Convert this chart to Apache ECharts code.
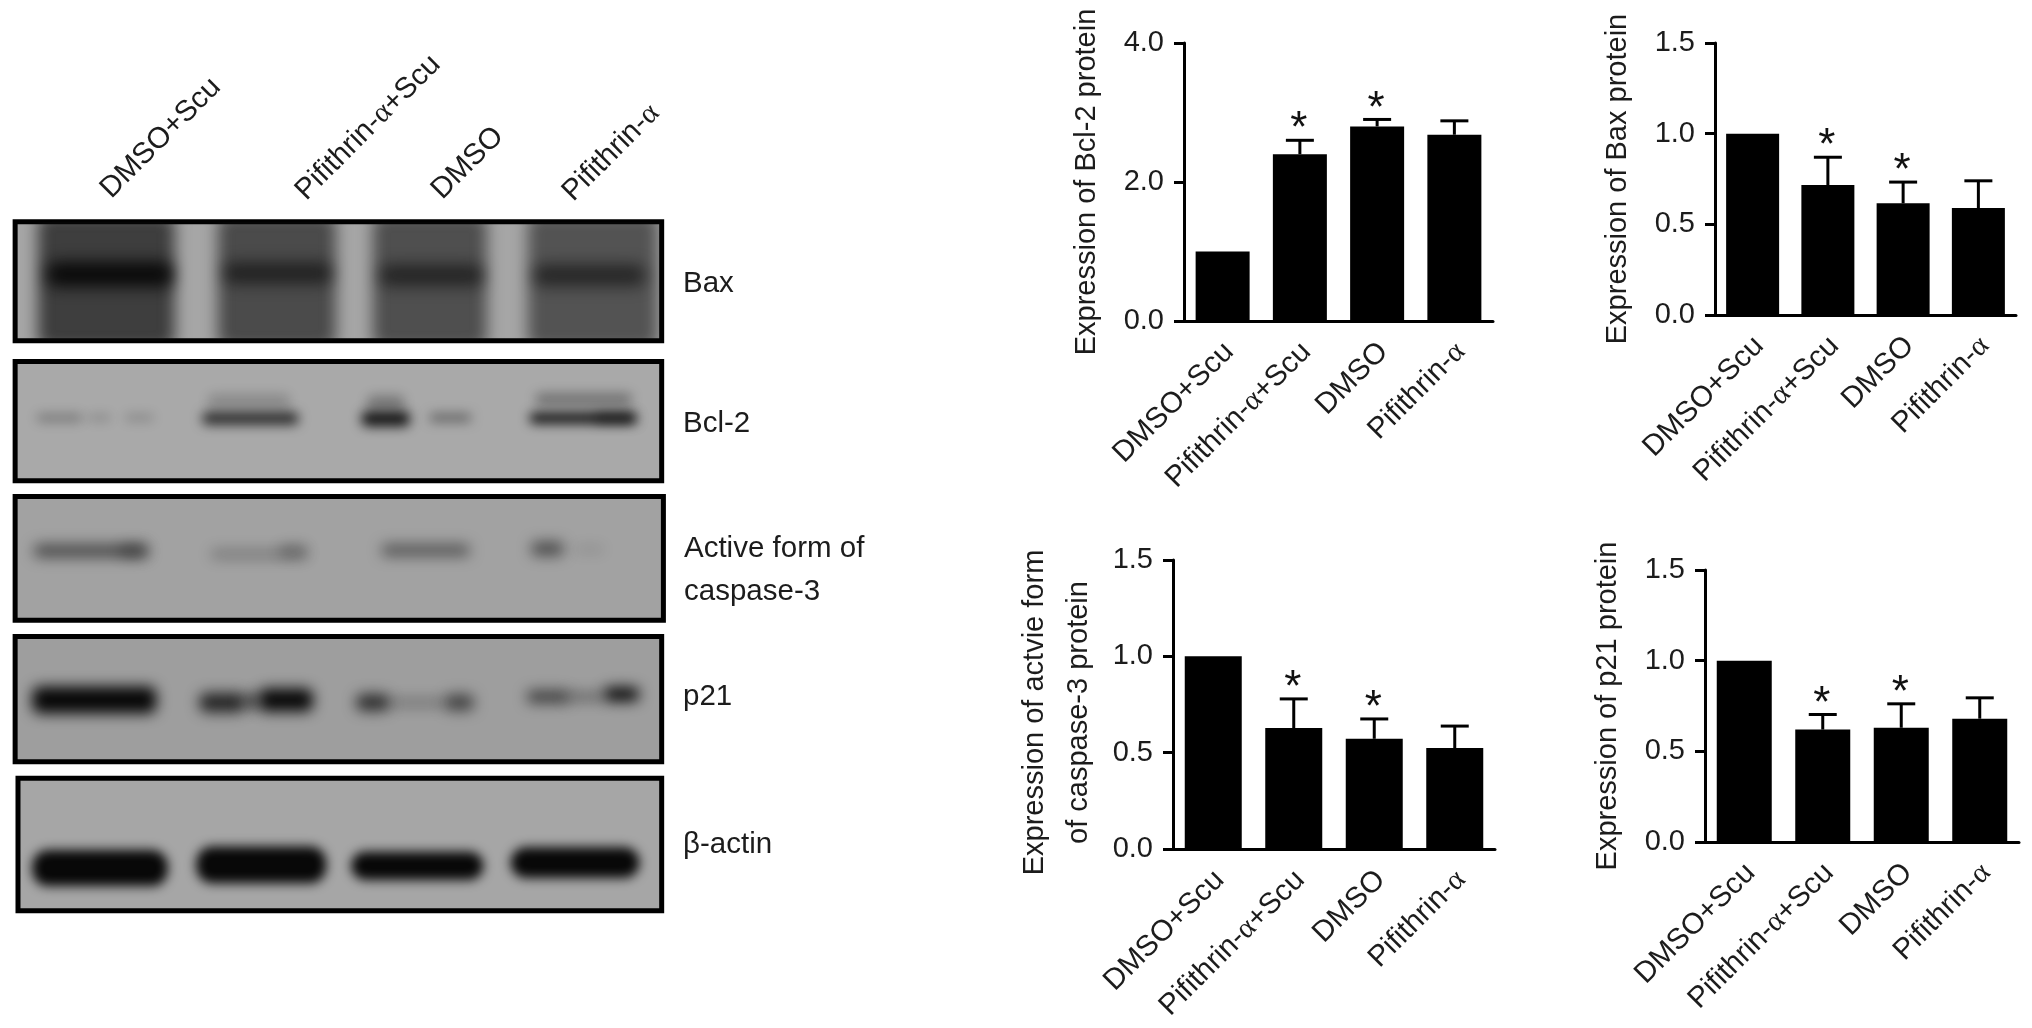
<!DOCTYPE html>
<html>
<head>
<meta charset="utf-8">
<style>html,body{margin:0;padding:0;background:#fff}#c{width:2032px;height:1028px;filter:blur(0.6px)}</style>
<script src="https://cdn.jsdelivr.net/npm/echarts@6/dist/echarts.min.js"></script>
</head>
<body>
<div id="c"></div>
<script>
// ---------- values ----------
const categories = ['DMSO+Scu', 'Pifithrin-α+Scu', 'DMSO', 'Pifithrin-α'];

const bcl2Mean  = [1.0, 2.40, 2.80, 2.68];
const bcl2Upper = [1.0, 2.60, 2.90, 2.88];
const bcl2Star  = [0, 1, 1, 0];

const baxMean  = [1.0, 0.717, 0.616, 0.59];
const baxUpper = [1.0, 0.87, 0.733, 0.74];
const baxStar  = [0, 1, 1, 0];

const caspMean  = [1.0, 0.628, 0.572, 0.524];
const caspUpper = [1.0, 0.779, 0.675, 0.638];
const caspStar  = [0, 1, 1, 0];

const p21Mean  = [1.0, 0.62, 0.63, 0.68];
const p21Upper = [1.0, 0.703, 0.762, 0.795];
const p21Star  = [0, 1, 1, 0];

const bcl2Ticks = [0, 2, 4];
const fracTicks = [0, 0.5, 1, 1.5];

const bcl2Title = 'Expression of Bcl-2 protein';
const baxTitle  = 'Expression of Bax protein';
const caspTitle = 'Expression of actvie form\nof caspase-3 protein';
const p21Title  = 'Expression of p21 protein';

const blotLabels = ['Bax', 'Bcl-2', 'Active form of', 'caspase-3', 'p21', 'β-actin'];

// blot bands: [xStart, xEnd, yCentre, height, darkness 0-1], in the blot's own lane scale
const baxBands = [
  [62, 302, 695, 420, 0.66], [378, 585, 695, 420, 0.58], [650, 850, 695, 420, 0.55], [922, 1150, 695, 420, 0.52],
  [78, 298, 672, 80, 0.95], [388, 578, 668, 66, 0.62], [662, 844, 675, 66, 0.6], [932, 1128, 675, 66, 0.6]
];
const bcl2Bands = [
  [60, 140, 1103, 24, 0.3], [150, 190, 1103, 20, 0.2], [215, 265, 1103, 20, 0.22],
  [360, 505, 1050, 42, 0.2], [350, 520, 1105, 38, 0.8],
  [640, 705, 1055, 42, 0.32], [630, 715, 1106, 46, 0.95], [750, 822, 1103, 22, 0.5],
  [935, 1105, 1045, 36, 0.36], [925, 1112, 1104, 32, 1], [1040, 1112, 1104, 28, 0.5]
];
const caspBands = [
  [55, 255, 212, 40, 0.58], [205, 255, 212, 40, 0.3], [365, 535, 222, 30, 0.26], [485, 535, 212, 34, 0.3],
  [665, 820, 210, 36, 0.5], [928, 985, 205, 42, 0.58], [1005, 1055, 207, 20, 0.15]
];
const p21Bands = [
  [52, 270, 660, 84, 1], [345, 425, 668, 60, 0.82], [420, 455, 664, 44, 0.6], [450, 545, 660, 72, 1],
  [620, 680, 668, 52, 0.76], [680, 775, 668, 24, 0.32], [775, 828, 668, 50, 0.62],
  [920, 995, 650, 38, 0.66], [990, 1055, 650, 20, 0.5], [1055, 1118, 642, 44, 1]
];
const actinBands = [
  [52, 290, 1167, 112, 1], [340, 568, 1157, 114, 1], [612, 844, 1160, 88, 1], [892, 1118, 1150, 96, 1]
];

// ---------- layout ----------
const SANS = '"Liberation Sans", Arial, sans-serif';
const INK = '#1c1c1c';
const TICK = 29, CAT = 29.5, NAME = 29;

const barPanels = [
  {left: 1184, top: 43,  width: 309, height: 278, max: 4,   interval: 2,   ticks: bcl2Ticks, mean: bcl2Mean, upper: bcl2Upper, star: bcl2Star, title: bcl2Title, barW: 54, gap: 75, pad: [0,0,0,0]},
  {left: 1715, top: 43,  width: 301, height: 272, max: 1.5, interval: 0.5, ticks: fracTicks, mean: baxMean,  upper: baxUpper,  star: baxStar,  title: baxTitle,  barW: 53, gap: 75, pad: [0,0,0,0]},
  {left: 1173, top: 560, width: 322, height: 289, max: 1.5, interval: 0.5, ticks: fracTicks, mean: caspMean, upper: caspUpper, star: caspStar, title: caspTitle, barW: 57, gap: 72, pad: [0,16,0,0]},
  {left: 1705, top: 570, width: 314, height: 272, max: 1.5, interval: 0.5, ticks: fracTicks, mean: p21Mean,  upper: p21Upper,  star: p21Star,  title: p21Title,  barW: 55, gap: 75, pad: [0,0,0,0]}
];

const LW = 1.742; // lane-scale units per pixel, x
const LH = 3;     // lane-scale units per pixel, y
const blots = [
  {x0: 22, x1: 1157, y0: 508,  y1: 880,  bg: '#a6a6a6', top: 50,  bands: baxBands,   blur: 15, r: 10},
  {x0: 22, x1: 1157, y0: 927,  y1: 1300, bg: '#a9a9a9', top: 50,  bands: bcl2Bands,  blur: 12, r: 6},
  {x0: 22, x1: 1160, y0: 42,   y1: 428,  bg: '#a2a2a2', top: 480, bands: caspBands,  blur: 14, r: 6},
  {x0: 22, x1: 1157, y0: 462,  y1: 853,  bg: '#9e9e9e', top: 480, bands: p21Bands,   blur: 14, r: 8},
  {x0: 27, x1: 1157, y0: 887,  y1: 1300, bg: '#a6a6a6', top: 480, bands: actinBands, blur: 11, r: 16}
];

// ---------- option ----------
const grid = [], xAxis = [], yAxis = [], series = [];

function alphaText(s) { return s.replace('α', '{a|α}'); }
const alphaRich = {a: {fontFamily: '"Liberation Serif", serif', fontSize: CAT, color: INK}};

barPanels.forEach((p, i) => {
  grid.push({left: p.left, top: p.top, width: p.width, height: p.height});
  xAxis.push({
    gridIndex: i, type: 'category', data: categories,
    axisLine: {lineStyle: {color: '#000', width: 3}},
    axisTick: {alignWithLabel: true, length: 9, lineStyle: {color: '#000', width: 3}},
    axisLabel: {rotate: 45, interval: 0, margin: 20, padding: [18, 0, 0, 0], fontFamily: SANS, fontSize: CAT, color: INK,
                formatter: alphaText, rich: alphaRich},
    splitLine: {show: false}
  });
  yAxis.push({
    gridIndex: i, type: 'value', min: 0, max: p.max, interval: p.interval,
    name: p.title, nameLocation: 'middle', nameRotate: 90, nameGap: p.gap,
    nameTextStyle: {fontFamily: SANS, fontSize: NAME, color: INK, lineHeight: 44, padding: p.pad},
    axisLine: {show: true, onZero: false, lineStyle: {color: '#000', width: 3}},
    axisTick: {show: true, length: 10, lineStyle: {color: '#000', width: 3}},
    axisLabel: {margin: 20, fontFamily: SANS, fontSize: TICK, color: INK, formatter: v => v.toFixed(1)},
    splitLine: {show: false}
  });
  series.push({
    type: 'bar', xAxisIndex: i, yAxisIndex: i, data: p.mean, barWidth: p.barW,
    itemStyle: {color: '#000'}, silent: true, animation: false
  });
  series.push({
    type: 'custom', xAxisIndex: i, yAxisIndex: i, silent: true, animation: false, z: 3,
    data: p.mean.map((m, k) => [k, p.upper[k], m, p.star[k]]),
    renderItem: (params, api) => {
      const top = api.coord([api.value(0), api.value(1)]);
      const base = api.coord([api.value(0), api.value(2)]);
      const children = [];
      if (api.value(1) > api.value(2)) {
        const line = {stroke: '#000', lineWidth: 3};
        children.push({type: 'line', shape: {x1: top[0], y1: top[1], x2: base[0], y2: base[1]}, style: line});
        children.push({type: 'line', shape: {x1: top[0] - 14, y1: top[1], x2: top[0] + 14, y2: top[1]}, style: line});
      }
      if (api.value(3)) {
        children.push({type: 'text', style: {text: '*', x: top[0] - 1, y: top[1] - 10, textAlign: 'center', textVerticalAlign: 'middle',
          fontFamily: SANS, fontSize: 44, fill: '#111'}});
      }
      return {type: 'group', children};
    }
  });
});

blots.forEach((b, n) => {
  const i = barPanels.length + n;
  const px = v => v / LW;
  const py = v => v / LH + b.top;
  grid.push({
    show: true, backgroundColor: b.bg, borderColor: '#000', borderWidth: 5,
    left: px(b.x0) + 2.5, width: px(b.x1) - px(b.x0) - 5,
    top: py(b.y0) + 2.5, height: py(b.y1) - py(b.y0) - 5
  });
  xAxis.push({gridIndex: i, type: 'value', min: b.x0, max: b.x1, show: false});
  yAxis.push({gridIndex: i, type: 'value', min: b.y0, max: b.y1, inverse: true, show: false});
  series.push({
    type: 'custom', xAxisIndex: i, yAxisIndex: i, silent: true, animation: false, clip: true,
    data: b.bands, dimensions: ['xs', 'xe', 'yc', 'h', 'd'],
    encode: {x: [0, 1], y: 2},
    renderItem: (params, api) => {
      const yc = api.value(2), h = api.value(3), d = api.value(4);
      const a = api.coord([api.value(0), yc - h / 2]);
      const c = api.coord([api.value(1), yc + h / 2]);
      const OFF = 4000;
      return {
        type: 'rect',
        shape: {x: a[0] - OFF, y: a[1], width: c[0] - a[0], height: c[1] - a[1], r: b.r},
        style: {fill: '#000', shadowColor: 'rgba(8,8,8,' + d + ')', shadowBlur: b.blur, shadowOffsetX: OFF, shadowOffsetY: 0}
      };
    }
  });
});

const labelFont = {fontFamily: SANS, fontSize: 29.5, fill: INK};
const topLabelSpots = [[116, 204], [311, 206], [447, 205], [578, 207]];
const sideLabelSpots = [[683, 284], [683, 424], [684, 549], [684, 592], [683, 697], [683, 845]];
const graphic = [];
categories.forEach((c, i) => {
  graphic.push({
    type: 'text', x: topLabelSpots[i][0], y: topLabelSpots[i][1], rotation: Math.PI / 4, silent: true,
    style: Object.assign({text: alphaText(c), textAlign: 'left', textVerticalAlign: 'bottom',
      rich: {a: {fontFamily: '"Liberation Serif", serif', fontSize: 29.5, fill: INK}}}, labelFont)
  });
});
blotLabels.forEach((t, i) => {
  graphic.push({
    type: 'text', x: sideLabelSpots[i][0], y: sideLabelSpots[i][1], silent: true,
    style: Object.assign({text: t, textAlign: 'left', textVerticalAlign: 'middle'}, labelFont)
  });
});

const chart = echarts.init(document.getElementById('c'), null, {renderer: 'canvas', width: 2032, height: 1028});
chart.setOption({
  backgroundColor: '#fff', animation: false, tooltip: {show: false},
  grid, xAxis, yAxis, series, graphic
});
</script>
</body>
</html>
